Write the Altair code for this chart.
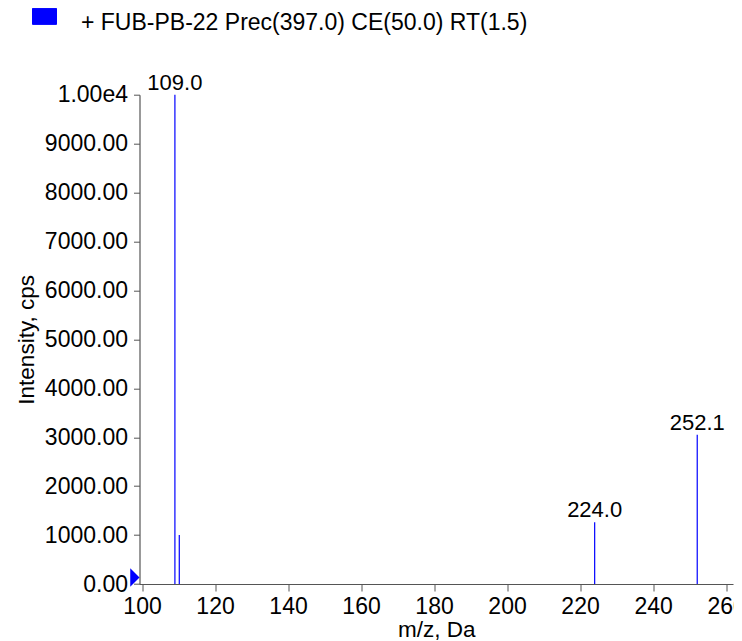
import altair as alt
import pandas as pd

# ---- data ----
mz = [109.0, 110.2, 224.0, 252.1]
intensity = [10000, 1000, 1260, 3050]
peak_labels = ["109.0", "", "224.0", "252.1"]
series_name = "+ FUB-PB-22 Prec(397.0) CE(50.0) RT(1.5)"

x_ticks = list(range(100, 261, 10))
y_ticks = list(range(0, 10001, 500))
x_domain = [99.3, 261.9]
y_domain = [0, 10000]

df = pd.DataFrame({"mz": mz, "intensity": intensity, "label": peak_labels,
                   "series": [series_name] * len(mz)})

FONT = "Liberation Sans"
BLUE = "#0000FF"
AXC = "#555555"

x_enc = alt.X("mz:Q", scale=alt.Scale(domain=x_domain, nice=False, zero=False),
              axis=alt.Axis(title="m/z, Da", values=x_ticks,
                            labelExpr="datum.value % 20 == 0 ? datum.value : ''",
                            grid=False, tickSize=7, labelPadding=4,
                            titlePadding=0))
y_enc = alt.Y("intensity:Q", scale=alt.Scale(domain=y_domain, nice=False),
              axis=alt.Axis(title="Intensity, cps", values=y_ticks,
                            labelExpr="datum.value == 10000 ? '1.00e4' : (datum.value % 1000 == 0 ? format(datum.value, '.2f') : '')",
                            grid=False, tickSize=6, labelPadding=6,
                            titlePadding=6))

rules = alt.Chart(df).mark_rule(strokeWidth=1.2).encode(
    x=x_enc,
    y=y_enc,
    y2=alt.datum(0),
    color=alt.Color("series:N", scale=alt.Scale(range=[BLUE]),
                    legend=alt.Legend(orient="none", legendX=-107.5, legendY=-84.5,
                                      title=None, padding=0,
                                      symbolType="M-1,-1.19H1V0.14H-1Z",
                                      symbolSize=576, symbolFillColor=BLUE,
                                      symbolStrokeColor="#555555", symbolStrokeWidth=1,
                                      labelFont=FONT, labelFontSize=23,
                                      labelColor="black", labelOffset=24,
                                      labelLimit=0)),
)

labels = alt.Chart(df).transform_filter("datum.label != ''").mark_text(
    font=FONT, fontSize=22, color="black", baseline="alphabetic", align="center", dy=-5
).encode(x="mz:Q", y="intensity:Q", text="label:N")

marker = alt.Chart(alt.Data(values=[{}])).mark_point(
    shape="M-1,-2L1,0L-1,2Z", filled=True, opacity=1, color=BLUE, size=86
).encode(x=alt.datum(x_domain[0]), y=alt.datum(0),
         xOffset=alt.value(-4.6), yOffset=alt.value(-6.5))

chart = alt.layer(rules, labels, marker).properties(
    width=593.5, height=489.3,
    autosize=alt.AutoSizeParams(type="none"),
    padding={"left": 131.5, "top": 86.7, "right": 1, "bottom": 56},
).configure_view(stroke=None).configure_axis(
    labelFont=FONT, labelFontSize=23, labelColor="black",
    titleFont=FONT, titleFontSize=22.5, titleFontWeight="normal", titleColor="black",
    domainColor=AXC, tickColor=AXC, domainWidth=1.2, tickWidth=1,
)

chart.save("out.html", embed_options={"renderer": "svg", "actions": False})
